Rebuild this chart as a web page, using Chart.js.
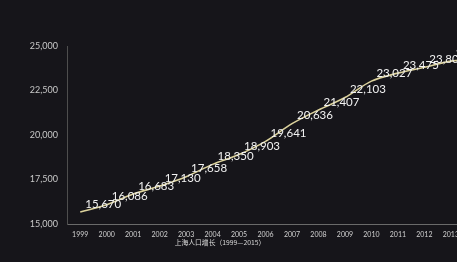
<!DOCTYPE html>
<html>
<head>
<meta charset="utf-8">
<script src="https://cdn.jsdelivr.net/npm/chart.js@4/dist/chart.umd.min.js"></script>
<style>
html,body{margin:0;padding:0;background:#16151a;overflow:hidden;width:457px;height:262px;}
#wrap{position:absolute;left:0;top:0;width:525px;height:262px;}
</style>
</head>
<body>
<div id="wrap"><canvas id="c"></canvas></div>
<script>
const years = ['1999','2000','2001','2002','2003','2004','2005','2006','2007','2008','2009','2010','2011','2012','2013','2014','2015'];
const population = [15670,16086,16683,17130,17658,18350,18903,19641,20636,21407,22103,23027,23475,23804,24151,24257,24153];
const yTicks = [15000,17500,20000,22500,25000];
const axisTitle = '上海人口增长（1999—2015）';

const fmt = v => Number(v).toLocaleString('en-US');

const valueLabels = {
  id: 'valueLabels',
  afterDatasetsDraw(chart) {
    const ctx = chart.ctx;
    const meta = chart.getDatasetMeta(0);
    ctx.save();
    ctx.font = '11.5px Lato';
    ctx.fillStyle = '#f2f2f2';
    ctx.textAlign = 'left';
    ctx.textBaseline = 'middle';
    meta.data.forEach((pt, i) => {
      ctx.fillText(fmt(population[i]), pt.x + 5, pt.y - 8);
    });
    ctx.restore();
  }
};

const bottomTitle = {
  id: 'bottomTitle',
  afterDraw(chart) {
    const ctx = chart.ctx;
    ctx.save();
    ctx.font = '6.8px "Noto Sans CJK SC"';
    ctx.fillStyle = '#d8d8d8';
    ctx.textAlign = 'center';
    ctx.textBaseline = 'middle';
    ctx.fillText(axisTitle, chart.chartArea.left + 153, chart.chartArea.bottom + 18);
    ctx.restore();
  }
};

new Chart(document.getElementById('c'), {
  type: 'line',
  data: {
    labels: years,
    datasets: [{
      data: population,
      borderColor: '#dcd29c',
      borderWidth: 1.6,
      pointRadius: 0,
      cubicInterpolationMode: 'monotone',
      fill: false
    }]
  },
  options: {
    responsive: true,
    maintainAspectRatio: false,
    animation: false,
    devicePixelRatio: 1,
    layout: { padding: { top: 46, right: 8, left: 0, bottom: 0 } },
    plugins: { legend: { display: false }, tooltip: { enabled: false } },
    scales: {
      x: {
        offset: true,
        grid: { display: false, drawTicks: false },
        border: { display: true, color: '#6a6a6a', width: 1 },
        ticks: { color: '#d0d0d0', font: { family: 'Lato', size: 7 }, padding: 7, maxRotation: 0, autoSkip: false },
        afterFit(s) { s.height = 38; }
      },
      y: {
        min: 15000, max: 25000,
        afterBuildTicks(s) { s.ticks = yTicks.map(v => ({ value: v })); },
        grid: { display: false, drawTicks: false },
        border: { display: true, color: '#4e4e4e', width: 1 },
        ticks: { color: '#c8c8c8', font: { family: 'Lato', size: 9 }, padding: 9, callback: v => fmt(v) },
        afterFit(s) { s.width = 67; }
      }
    }
  },
  plugins: [valueLabels, bottomTitle]
});
</script>
</body>
</html>
